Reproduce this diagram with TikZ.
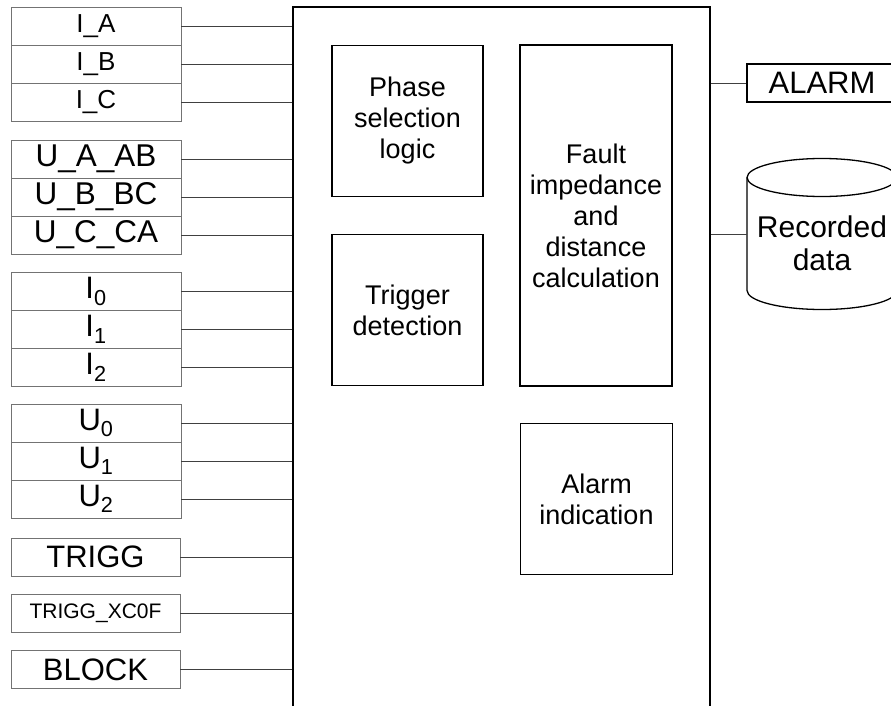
\documentclass[tikz,border=0pt]{standalone}
\usepackage{fontspec}
\setmainfont{Liberation Sans}
\newcommand{\sz}[1]{\fontsize{#1}{#1}\selectfont}

\begin{document}
\begin{tikzpicture}[x=1pt, y=-1pt,
			sig/.style={draw=gray!90!black, line width=0.8pt, minimum width=170pt,
				minimum height=38pt, inner sep=0pt},
			blk/.style={draw, line width=1.3pt, align=center, inner sep=0pt,
				minimum width=151pt, font=\fontsize{27}{31}\selectfont},
			ed/.style={-, gray!50!black, line width=0.8pt}
			]
			\useasboundingbox (0,0) rectangle (891,706);
			\clip (0,0) rectangle (891,706);
			% inputs
			\node[sig, font=\sz{26}] (ia)  at (96,26.5)  {I\_A};
			\node[sig, font=\sz{26}] (ib)  at (96,64)    {I\_B};
			\node[sig, font=\sz{26}] (ic)  at (96,102)   {I\_C};
			\node[sig, font=\sz{31.5}] (uab) at (96,159)   {U\_A\_AB};
			\node[sig, font=\sz{31.5}] (ubc) at (96,197)   {U\_B\_BC};
			\node[sig, font=\sz{31.5}] (uca) at (96,235)   {U\_C\_CA};
			\node[sig, font=\sz{31}] (i0)  at (96,291.5) {I\textsubscript{0}};
			\node[sig, font=\sz{31}] (i1)  at (96,329.5) {I\textsubscript{1}};
			\node[sig, font=\sz{31}] (i2)  at (96,367.5) {I\textsubscript{2}};
			\node[sig, font=\sz{31}] (u0)  at (96,423)   {U\textsubscript{0}};
			\node[sig, font=\sz{31}] (u1)  at (96,461)   {U\textsubscript{1}};
			\node[sig, font=\sz{31}] (u2)  at (96,499)   {U\textsubscript{2}};
			\node[sig, font=\sz{31}, minimum width=169pt] (trg)  at (95.5,557) {TRIGG};
			\node[sig, font=\sz{21}, minimum width=169pt] (trgx) at (95.5,613) {TRIGG\_XC0F};
			\node[sig, font=\sz{31}, minimum width=169pt] (blck) at (95.5,669.5) {BLOCK};
			% function block
			\node[draw, line width=1.8pt, minimum width=417pt, minimum height=713pt]
				(main) at (501.5,363.5) {};
			\node[blk, minimum height=151pt] (phs) at (407.5,121) {Phase\\selection\\logic};
			\node[blk, minimum height=151pt] (trd) at (407.5,310) {Trigger\\detection};
			\node[blk, minimum height=341pt, minimum width=152pt] (flt) at (596,215.5)
				{Fault\\impedance\\and\\distance\\calculation};
			\node[blk, minimum height=151pt, minimum width=152pt] (alm) at (596.5,499)
				{Alarm\\indication};
			% outputs
			\node[draw, line width=1.3pt, minimum width=150pt, minimum height=38pt,
				inner sep=0pt, font=\sz{31}] (alarm) at (822,83) {ALARM};
			\draw[line width=1.3pt, fill=white] (747,177.5) -- (747,290.5)
				arc[start angle=180, end angle=360, x radius=75pt, y radius=19pt] -- (897,177.5);
			\draw[line width=1.3pt] (822,177.5) ellipse [x radius=75pt, y radius=19pt];
			\node[minimum width=150pt, minimum height=113pt, inner sep=0pt] (recd) at (822,234) {};
			\node[align=center, font=\fontsize{30}{33}\selectfont] (rect) at (822,243) {Recorded\\data};
			% connectors
			\draw[ed] (ia.east)--(ia.east -| main.west); \draw[ed] (ib.east)--(ib.east -| main.west);
			\draw[ed] (ic.east)--(ic.east -| main.west);
			\draw[ed] (uab.east)--(uab.east -| main.west); \draw[ed] (ubc.east)--(ubc.east -| main.west);
			\draw[ed] (uca.east)--(uca.east -| main.west);
			\draw[ed] (i0.east)--(i0.east -| main.west); \draw[ed] (i1.east)--(i1.east -| main.west);
			\draw[ed] (i2.east)--(i2.east -| main.west);
			\draw[ed] (u0.east)--(u0.east -| main.west); \draw[ed] (u1.east)--(u1.east -| main.west);
			\draw[ed] (u2.east)--(u2.east -| main.west);
			\draw[ed] (trg.east)--(trg.east -| main.west); \draw[ed] (trgx.east)--(trgx.east -| main.west);
			\draw[ed] (blck.east)--(blck.east -| main.west);
			\draw[ed] (alarm.west -| main.east)--(alarm.west);
			\draw[ed] (recd.west -| main.east)--(recd.west);
	\end{tikzpicture}
\end{document}
